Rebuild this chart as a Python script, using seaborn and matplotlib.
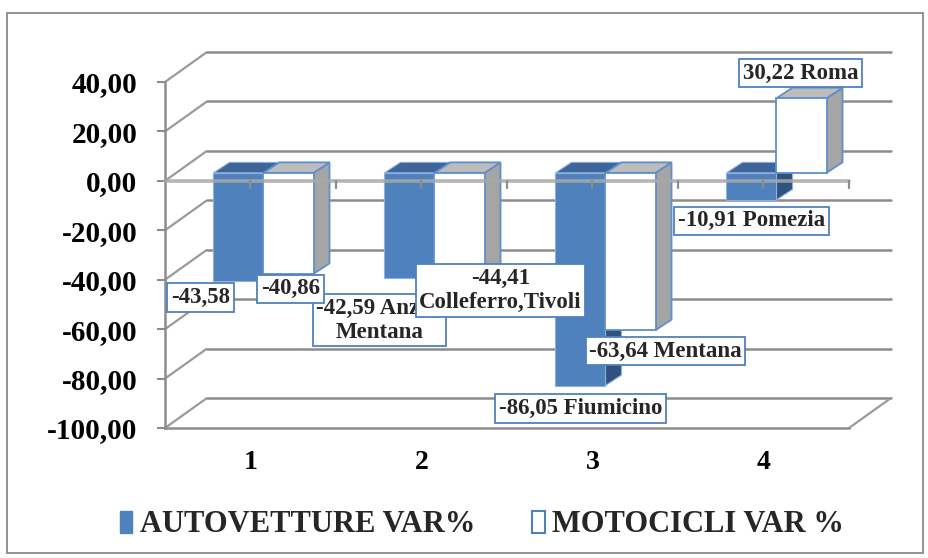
import numpy as np
import pandas as pd
import matplotlib
matplotlib.use("Agg")
import matplotlib.pyplot as plt
import seaborn as sns
from matplotlib.patches import Polygon, Rectangle, Patch

# ---- data -------------------------------------------------------------
categories = ["1", "2", "3", "4"]
series_names = ["AUTOVETTURE VAR%", "MOTOCICLI VAR %"]
autovetture = [-43.58, -42.59, -86.05, -10.91]
motocicli = [-40.86, -44.41, -63.64, 30.22]
# place names appended to each value label (with their separator)
auto_places = ["", " Anzio,\nMentana", " Fiumicino", " Pomezia"]
moto_places = ["", "\nColleferro,Tivoli", " Mentana", " Roma"]
y_ticks = [-100, -80, -60, -40, -20, 0, 20, 40]
y_tick_labels = ["-100,00", "-80,00", "-60,00", "-40,00", "-20,00",
                 "0,00", "20,00", "40,00"]

# ---- style ------------------------------------------------------------
BLUE = "#4f81bd"
BLUE_TOP = "#3d659a"
BLUE_SIDE = "#2f5281"
BLUE_EDGE = "#8eb0db"
WHITE_TOP = "#bdbdbd"
WHITE_SIDE = "#a5a5a5"
WHITE_EDGE = "#5f8fcc"
GRID = "#8c8c8c"

sns.set_theme(style="white")
plt.rcParams["font.family"] = ["Liberation Serif", "DejaVu Serif"]
plt.rcParams["font.weight"] = "bold"

fig = plt.figure(figsize=(9.29, 5.58), dpi=100)
ax = fig.add_axes([165 / 929, 130 / 558, 684 / 929, 346 / 558])

df = pd.DataFrame({
    "categoria": categories * 2,
    "var": autovetture + motocicli,
    "serie": [series_names[0]] * len(categories) + [series_names[1]] * len(categories),
})
sns.barplot(data=df, x="categoria", y="var", hue="serie", order=categories,
            hue_order=series_names, palette=[BLUE, "white"], saturation=1,
            width=0.585, errorbar=None, legend=False, ax=ax)

ax.set_xlim(-0.5, 3.5)
ax.set_ylim(-100, 40)
ax.set_xlabel("")
ax.set_ylabel("")

# pixel -> data conversion for the oblique 3D look
sx = ax.bbox.width / 4.0
sy = ax.bbox.height / 140.0
WALL_DX, WALL_DY = 42 / sx, 30 / sy      # back wall offset
BAR_DX, BAR_DY = 13 / sx, 8 / sy         # bars stand a bit behind the front plane
DEP_DX, DEP_DY = 16 / sx, 10.5 / sy      # depth of each column

# ---- walls and gridlines ----------------------------------------------
x0, x1 = -0.5, 3.5
for v in y_ticks:
    ax.plot([x0, x0 + WALL_DX], [v, v + WALL_DY], color="#9a9a9a", lw=1.6,
            zorder=0.5, clip_on=False, solid_capstyle="butt")
    ax.plot([x0 + WALL_DX, x1 + WALL_DX], [v + WALL_DY, v + WALL_DY],
            color=GRID, lw=1.8, zorder=0.5, clip_on=False)
ax.plot([x1, x1 + WALL_DX], [-100, -100 + WALL_DY], color="#9a9a9a", lw=1.6,
        zorder=0.5, clip_on=False)

for side in ["top", "right"]:
    ax.spines[side].set_visible(False)
for side in ["left", "bottom"]:
    ax.spines[side].set_color(GRID)
    ax.spines[side].set_linewidth(1.8)

# ---- 3D faces for every column ----------------------------------------
face_styles = [
    (BLUE_TOP, BLUE_SIDE, BLUE_EDGE, 0.8, 2.0, 2.1),
    (WHITE_TOP, WHITE_SIDE, WHITE_EDGE, 1.3, 2.2, 2.3),
]
for cont, (ctop, cside, cedge, lw, zf, zb) in zip(ax.containers, face_styles):
    for bar in cont:
        bar.set_x(bar.get_x() + BAR_DX)
        bar.set_y(bar.get_y() + BAR_DY)
        bar.set_edgecolor(cedge)
        bar.set_linewidth(lw)
        bar.set_zorder(zb)
        bar.set_clip_on(False)
        bx0 = bar.get_x()
        bx1 = bx0 + bar.get_width()
        y_a = bar.get_y()
        y_b = y_a + bar.get_height()
        top, bot = max(y_a, y_b), min(y_a, y_b)
        top_face = Polygon([(bx0, top), (bx1, top), (bx1 + DEP_DX, top + DEP_DY),
                            (bx0 + DEP_DX, top + DEP_DY)], closed=True,
                           fc=ctop, ec=cedge, lw=lw, zorder=zf, clip_on=False)
        side_face = Polygon([(bx1, bot), (bx1, top), (bx1 + DEP_DX, top + DEP_DY),
                             (bx1 + DEP_DX, bot + DEP_DY)], closed=True,
                            fc=cside, ec=cedge, lw=lw, zorder=zf, clip_on=False)
        ax.add_patch(side_face)
        ax.add_patch(top_face)

# horizontal category axis at zero, with its small ticks
ax.plot([x0, x1], [0, 0], color="#a8a8a8", lw=2.6, alpha=0.85, zorder=3,
        clip_on=False)
tick_len = 7 / sy
for t in np.arange(0.0, 3.51, 0.5):
    ax.plot([t, t], [0, -tick_len], color="#8c8c8c", lw=1.6, zorder=3,
            clip_on=False)

# ---- axis ticks -------------------------------------------------------
ax.set_yticks(y_ticks)
ax.set_yticklabels(y_tick_labels)
ax.tick_params(axis="y", length=6, width=1.5, color=GRID, pad=14,
               labelsize=21, direction="out", left=True)
ax.set_xticks(range(len(categories)))
ax.set_xticklabels(categories)
ax.tick_params(axis="x", length=0, pad=16, labelsize=20)
for lab in ax.get_xticklabels() + ax.get_yticklabels():
    lab.set_fontweight("bold")
    lab.set_color("black")

# ---- value labels -----------------------------------------------------
def fmt(v):
    return f"{v:.2f}".replace(".", ",")

auto_offsets = [(-38, -17), (-30, -42), (0, -23), (0, -21)]
moto_offsets = [(2, -15), (41, -8), (35, -21), (-1, 25)]
series_values = [autovetture, motocicli]
series_places = [auto_places, moto_places]
series_offsets = [auto_offsets, moto_offsets]
for cont, vals, places, offs in zip(ax.containers, series_values,
                                    series_places, series_offsets):
    for bar, v, place, off in zip(cont, vals, places, offs):
        xc = bar.get_x() + bar.get_width() / 2
        ax.annotate(fmt(v) + place, xy=(xc, v + BAR_DY), xytext=off,
                    textcoords="offset pixels", ha="center", va="center",
                    multialignment="center", fontsize=16.5, fontweight="bold",
                    linespacing=1.2, zorder=6, annotation_clip=False,
                    bbox=dict(boxstyle="square,pad=0.16", fc="white",
                              ec=BLUE, lw=1.3))

# ---- legend -----------------------------------------------------------
handles = [Patch(fc=BLUE, ec=BLUE, lw=1.0),
           Patch(fc="white", ec=BLUE, lw=1.5)]
fig.legend(handles, series_names, loc="center", bbox_to_anchor=(482 / 929, 33 / 558),
           ncol=2, frameon=False, prop=dict(family=["Liberation Serif", "DejaVu Serif"],
                                            weight="bold", size=22),
           handlelength=0.42, handleheight=0.75, handletextpad=0.25,
           columnspacing=1.85, borderaxespad=0)

# chart area border
fig.patches.append(Rectangle((7 / 929, 5 / 558), 916 / 929, 540 / 558,
                             transform=fig.transFigure, fill=False,
                             ec="#8a8a8a", lw=1.3))

fig.savefig("out.png", dpi=100)
